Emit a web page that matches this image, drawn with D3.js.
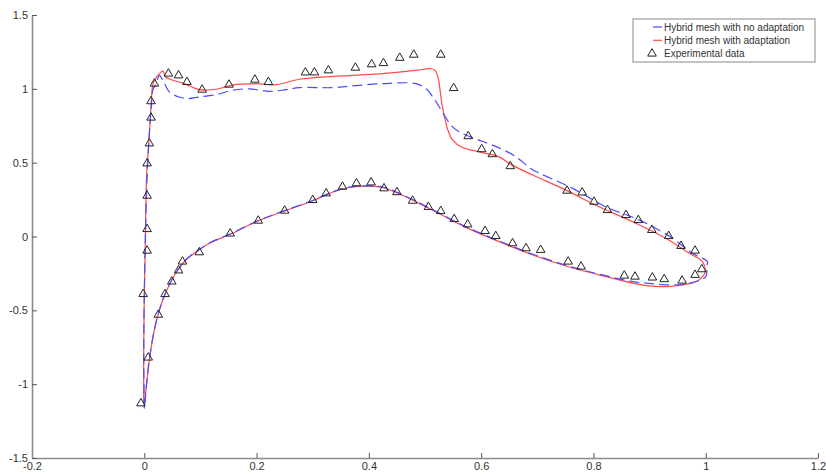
<!DOCTYPE html>
<html>
<head>
<meta charset="utf-8">
<script src="https://cdn.jsdelivr.net/npm/d3@7"></script>
<style>
  body { margin: 0; background: #fff; }
  svg { display: block; font-family: "Liberation Sans", Arial, sans-serif; }
</style>
</head>
<body>
<div id="chart"></div>
<script>
// x/c positions and pressure values
const xTicks = [-0.2, 0, 0.2, 0.4, 0.6, 0.8, 1, 1.2];
const yTicks = [-1.5, -1, -0.5, 0, 0.5, 1, 1.5];

const seriesNames = ["Hybrid mesh with no adaptation", "Hybrid mesh with adaptation", "Experimental data"];

// no adaptation (blue dashed)
const noAdaptCurve = [
    [0.0,-1.165],[-0.001,-0.8],[0.0,-0.4],[0.002,0.0],[0.005,0.4],[0.009,0.7],[0.013,0.9],
    [0.015,0.99],[0.021,1.035],[0.027,1.09],[0.036,1.035],[0.045,0.978],[0.062,0.945],
    [0.077,0.934],[0.098,0.945],[0.128,0.961],[0.157,0.99],[0.187,1.0],[0.223,0.983],
    [0.252,0.994],[0.276,1.008],[0.335,1.008],[0.365,1.018],[0.424,1.035],[0.484,1.035],
    [0.502,1.0],[0.516,0.934],[0.531,0.843],[0.549,0.742],[0.567,0.697],[0.602,0.645],
    [0.632,0.6],[0.662,0.54],[0.69,0.455],[0.703,0.43],[0.763,0.326],[0.822,0.201],
    [0.882,0.111],[0.941,-0.012],[0.976,-0.114],[1.003,-0.17],[1.002,-0.2],[1.0,-0.272],
    [0.976,-0.312],[0.947,-0.328],[0.899,-0.318],[0.87,-0.305],[0.81,-0.255],[0.751,-0.195],
    [0.692,-0.12],[0.632,-0.03],[0.573,0.066],[0.513,0.183],[0.454,0.293],[0.424,0.335],
    [0.395,0.343],[0.365,0.334],[0.335,0.302],[0.3,0.244],[0.246,0.17],[0.199,0.102],
    [0.157,0.024],[0.116,-0.044],[0.098,-0.088],[0.074,-0.157],[0.056,-0.247],[0.039,-0.371],
    [0.027,-0.495],[0.018,-0.63],[0.009,-0.834],[0.003,-1.04],[0.001,-1.165]
];

// with adaptation (red solid)
const adaptCurve = [
    [-0.001,-1.13],[-0.001,-0.8],[0.0,-0.4],[0.002,0.0],[0.004,0.4],[0.008,0.63],[0.011,0.81],
    [0.013,0.95],[0.016,1.04],[0.022,1.08],[0.033,1.12],[0.038,1.08],[0.05,1.06],[0.071,1.035],
    [0.098,0.995],[0.128,0.997],[0.157,1.025],[0.2,1.035],[0.235,1.028],[0.276,1.065],
    [0.335,1.084],[0.365,1.09],[0.424,1.103],[0.484,1.125],[0.511,1.136],[0.518,1.125],
    [0.523,1.08],[0.531,0.88],[0.54,0.73],[0.549,0.655],[0.567,0.603],[0.597,0.573],
    [0.632,0.539],[0.652,0.49],[0.692,0.416],[0.751,0.314],[0.81,0.201],[0.87,0.1],
    [0.929,-0.012],[0.971,-0.114],[0.994,-0.17],[0.999,-0.238],[0.988,-0.294],[0.959,-0.328],
    [0.929,-0.339],[0.899,-0.335],[0.87,-0.316],[0.81,-0.26],[0.751,-0.2],[0.692,-0.125],
    [0.632,-0.035],[0.573,0.062],[0.513,0.179],[0.454,0.29],[0.424,0.332],[0.395,0.341],
    [0.365,0.332],[0.335,0.3],[0.3,0.242],[0.246,0.168],[0.199,0.1],[0.157,0.022],
    [0.116,-0.046],[0.098,-0.09],[0.074,-0.159],[0.056,-0.249],[0.039,-0.373],[0.027,-0.497],
    [0.018,-0.63],[0.009,-0.834],[0.003,-1.04],[0.0,-1.13]
];

// experimental points
const expData = [
    [-0.006,-1.13],[0.007,-0.82],[-0.002,-0.39],[0.005,-0.096],[0.005,0.05],[0.005,0.276],
    [0.005,0.495],[0.009,0.63],[0.012,0.805],[0.012,0.916],[0.018,1.035],[0.043,1.103],
    [0.061,1.091],[0.076,1.046],[0.103,0.994],[0.151,1.028],[0.197,1.062],[0.221,1.046],
    [0.287,1.111],[0.303,1.111],[0.328,1.125],[0.376,1.143],[0.405,1.166],[0.426,1.174],
    [0.455,1.21],[0.48,1.231],[0.528,1.231],[0.551,1.005],[0.577,0.679],[0.601,0.591],
    [0.62,0.557],[0.652,0.476],[0.753,0.31],[0.78,0.298],[0.801,0.235],[0.825,0.179],
    [0.858,0.145],[0.88,0.111],[0.904,0.044],[0.934,0.003],[0.956,-0.064],[0.981,-0.096],
    [0.025,-0.53],[0.037,-0.39],[0.049,-0.305],[0.061,-0.23],[0.068,-0.17],[0.098,-0.107],
    [0.153,0.02],[0.203,0.107],[0.25,0.175],[0.3,0.247],[0.324,0.292],[0.353,0.337],
    [0.378,0.36],[0.404,0.366],[0.427,0.326],[0.45,0.3],[0.478,0.242],[0.506,0.2],
    [0.528,0.172],[0.552,0.118],[0.576,0.082],[0.607,0.037],[0.626,0.003],[0.656,-0.046],
    [0.68,-0.08],[0.706,-0.091],[0.755,-0.17],[0.778,-0.204],[0.855,-0.265],[0.874,-0.272],
    [0.905,-0.278],[0.926,-0.289],[0.958,-0.299],[0.981,-0.26],[0.993,-0.222]
];

const margin = {top: 15, right: 8, bottom: 15, left: 32};
const width = 826 - margin.left - margin.right;
const height = 473 - margin.top - margin.bottom;

const svg = d3.select("#chart").append("svg")
    .attr("width", 826)
    .attr("height", 473);

const g = svg.append("g")
    .attr("transform", "translate(" + margin.left + "," + margin.top + ")");

const x = d3.scaleLinear().domain([-0.2, 1.2]).range([0, width]);
const y = d3.scaleLinear().domain([-1.5, 1.5]).range([height, 0]);

const fmt = d => String(+d.toFixed(2));

const xAxis = g.append("g")
    .attr("transform", "translate(0," + height + ")")
    .call(d3.axisBottom(x).tickValues(xTicks).tickFormat(fmt).tickSizeInner(-5).tickSizeOuter(0).tickPadding(4));

const yAxis = g.append("g")
    .call(d3.axisLeft(y).tickValues(yTicks).tickFormat(fmt).tickSizeInner(-5).tickSizeOuter(0).tickPadding(4));

[xAxis, yAxis].forEach(a => {
    a.select(".domain").attr("stroke", "#8c8c8c").attr("stroke-width", 1.6);
    a.selectAll(".tick line").attr("stroke", "#555");
    a.selectAll(".tick text").attr("fill", "#333").style("font-size", "11px");
});

const line = d3.line()
    .x(d => x(d[0]))
    .y(d => y(d[1]))
    .curve(d3.curveCatmullRom.alpha(0.5));

g.append("path")
    .datum(adaptCurve)
    .attr("d", line)
    .attr("fill", "none")
    .attr("stroke", "#ff4a4a")
    .attr("stroke-width", 1.2);

g.append("path")
    .datum(noAdaptCurve)
    .attr("d", line)
    .attr("fill", "none")
    .attr("stroke", "#4a4aff")
    .attr("stroke-width", 1.2)
    .attr("stroke-dasharray", "10,5");

const tri = d3.symbol().type(d3.symbolTriangle).size(32);

g.selectAll(".exp")
    .data(expData)
    .enter()
    .append("path")
    .attr("class", "exp")
    .attr("transform", d => "translate(" + x(d[0]) + "," + y(d[1]) + ")")
    .attr("d", tri)
    .attr("fill", "none")
    .attr("stroke", "#222")
    .attr("stroke-width", 1);

// legend
const legend = svg.append("g").attr("transform", "translate(633,19)");
legend.append("rect")
    .attr("width", 182)
    .attr("height", 43)
    .attr("fill", "#fff")
    .attr("stroke", "#888")
    .attr("stroke-width", 1);

const legendItems = [
    {text: seriesNames[0], kind: "line", color: "#4a4aff"},
    {text: seriesNames[1], kind: "line", color: "#ff4a4a"},
    {text: seriesNames[2], kind: "tri", color: "#222"}
];

const rows = legend.selectAll(".legend")
    .data(legendItems)
    .enter()
    .append("g")
    .attr("class", "legend")
    .attr("transform", (d, i) => `translate(0, ${8 + i * 13.3})`);

rows.filter(d => d.kind === "line").append("line")
    .attr("x1", 20).attr("x2", 29).attr("y1", 0).attr("y2", 0)
    .attr("stroke", d => d.color)
    .attr("stroke-width", 1.2);

rows.filter(d => d.kind === "tri").append("path")
    .attr("transform", "translate(19,0)")
    .attr("d", tri)
    .attr("fill", "none")
    .attr("stroke", d => d.color);

rows.append("text")
    .attr("x", 31)
    .attr("y", 3.5)
    .text(d => d.text)
    .style("font-size", "10px")
    .attr("fill", "#333");
</script>
</body>
</html>
